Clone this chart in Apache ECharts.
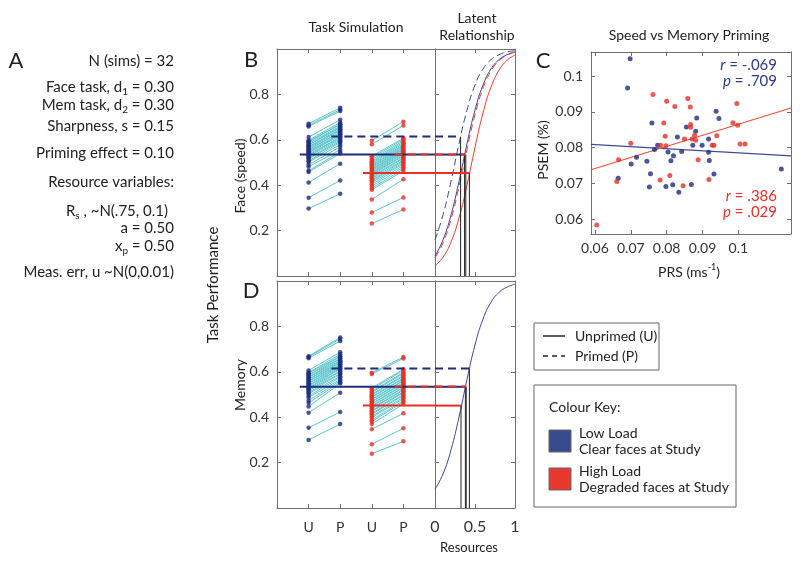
<!DOCTYPE html>
<html>
<head>
<meta charset="utf-8">
<script src="https://cdn.jsdelivr.net/npm/echarts@6/dist/echarts.min.js"></script>
<style>
html, body { margin: 0; padding: 0; background: #fff; }
#chart { width: 800px; height: 564px; }
</style>
</head>
<body>
<div id="chart"></div>
<script>
// tick labels
const taskTicks = ['U', 'P', 'U', 'P'];
const taskTickPos = [1, 2, 3, 4];
const perfTicks = [0.2, 0.4, 0.6, 0.8];
const resTicks = [0, 0.5, 1];
const cTicks = [0.06, 0.07, 0.08, 0.09, 0.1];

// panel B - face (speed), 32 simulated subjects
const faceBlueU = [0.297, 0.345, 0.412, 0.458, 0.464, 0.481, 0.490, 0.503, 0.507, 0.516, 0.519, 0.527, 0.531, 0.536, 0.542, 0.545, 0.549, 0.554, 0.557, 0.562, 0.567, 0.570, 0.576, 0.578, 0.584, 0.590, 0.593, 0.598, 0.612, 0.659, 0.664, 0.671];
const faceBlueP = [0.362, 0.421, 0.495, 0.540, 0.547, 0.556, 0.569, 0.578, 0.588, 0.593, 0.599, 0.604, 0.610, 0.612, 0.619, 0.624, 0.626, 0.633, 0.634, 0.641, 0.644, 0.647, 0.653, 0.656, 0.660, 0.667, 0.669, 0.676, 0.688, 0.727, 0.733, 0.741];
const faceRedU = [0.231, 0.280, 0.337, 0.380, 0.387, 0.396, 0.404, 0.411, 0.418, 0.422, 0.429, 0.435, 0.439, 0.445, 0.449, 0.454, 0.458, 0.463, 0.468, 0.471, 0.477, 0.481, 0.486, 0.490, 0.496, 0.501, 0.506, 0.513, 0.521, 0.528, 0.580, 0.596];
const faceRedP = [0.293, 0.346, 0.426, 0.463, 0.471, 0.479, 0.487, 0.495, 0.500, 0.507, 0.511, 0.518, 0.522, 0.529, 0.532, 0.538, 0.542, 0.547, 0.551, 0.556, 0.560, 0.564, 0.569, 0.574, 0.578, 0.584, 0.589, 0.595, 0.601, 0.607, 0.663, 0.680];
// group order: blue U, blue P, red U, red P
const faceMeans = [0.535, 0.614, 0.454, 0.535];
const faceCross = [0.37, 0.32, 0.43, 0.385];

// panel D - memory
const memBlueU = [0.300, 0.353, 0.420, 0.447, 0.463, 0.473, 0.487, 0.494, 0.504, 0.509, 0.517, 0.521, 0.528, 0.531, 0.538, 0.541, 0.548, 0.550, 0.557, 0.559, 0.566, 0.568, 0.575, 0.577, 0.584, 0.587, 0.594, 0.597, 0.606, 0.660, 0.665, 0.669];
const memBlueP = [0.370, 0.423, 0.508, 0.549, 0.554, 0.561, 0.566, 0.575, 0.580, 0.590, 0.593, 0.601, 0.604, 0.612, 0.615, 0.621, 0.625, 0.630, 0.633, 0.639, 0.642, 0.647, 0.650, 0.657, 0.659, 0.666, 0.669, 0.677, 0.686, 0.736, 0.745, 0.751];
const memRedU = [0.239, 0.281, 0.347, 0.370, 0.381, 0.388, 0.398, 0.404, 0.413, 0.417, 0.425, 0.429, 0.437, 0.440, 0.447, 0.450, 0.457, 0.460, 0.467, 0.470, 0.477, 0.480, 0.487, 0.490, 0.497, 0.501, 0.509, 0.514, 0.523, 0.529, 0.590, 0.596];
const memRedP = [0.294, 0.351, 0.417, 0.458, 0.467, 0.473, 0.482, 0.488, 0.496, 0.500, 0.508, 0.512, 0.519, 0.522, 0.530, 0.533, 0.540, 0.543, 0.550, 0.553, 0.560, 0.563, 0.570, 0.573, 0.581, 0.585, 0.593, 0.597, 0.606, 0.611, 0.659, 0.665];
const memMeans = [0.534, 0.614, 0.451, 0.535];
const memCross = [0.38, 0.43, 0.325, 0.39];

// latent relationship curves (resources -> performance)
const curveX = [0, 0.1, 0.2, 0.3, 0.4, 0.5, 0.6, 0.7, 0.8, 0.9, 1];
const faceCurveBlueU = [0.088, 0.159, 0.269, 0.417, 0.583, 0.731, 0.841, 0.912, 0.953, 0.975, 0.987];
const faceCurveBlueP = [0.159, 0.269, 0.417, 0.583, 0.731, 0.841, 0.912, 0.953, 0.975, 0.987, 0.993];
const faceCurveRedU = [0.044, 0.083, 0.150, 0.256, 0.401, 0.566, 0.718, 0.832, 0.906, 0.950, 0.973];
const faceCurveRedP = [0.081, 0.146, 0.250, 0.394, 0.558, 0.711, 0.827, 0.903, 0.948, 0.972, 0.986];
const memCurve = [0.083, 0.150, 0.256, 0.401, 0.566, 0.718, 0.832, 0.906, 0.950, 0.973, 0.986];

// panel C - speed vs memory priming
const prsBlue = [0.0698, 0.0691, 0.0759, 0.0855, 0.0884, 0.0881, 0.0938, 0.0946, 0.0830, 0.0775, 0.0766, 0.0873, 0.0899, 0.0917, 0.0804, 0.0819, 0.0842, 0.0917, 0.0812, 0.0919, 0.0716, 0.0701, 0.0745, 0.0755, 0.0932, 0.0665, 0.0752, 0.0798, 0.0817, 0.0834, 0.0869, 0.1120];
const psemBlue = [0.1049, 0.0967, 0.0869, 0.0858, 0.0883, 0.0846, 0.0902, 0.0882, 0.0830, 0.0807, 0.0795, 0.0807, 0.0807, 0.0824, 0.0788, 0.0777, 0.0789, 0.0787, 0.0763, 0.0764, 0.0773, 0.0754, 0.0762, 0.0727, 0.0726, 0.0714, 0.0690, 0.0691, 0.0696, 0.0675, 0.0697, 0.0740];
const prsRed = [0.0762, 0.0800, 0.0859, 0.0823, 0.0866, 0.0996, 0.0792, 0.0867, 0.0867, 0.0985, 0.0998, 0.0796, 0.0850, 0.0871, 0.0878, 0.0881, 0.0940, 0.0700, 0.0783, 0.0798, 0.0927, 0.0932, 0.1005, 0.1019, 0.0666, 0.0888, 0.0809, 0.0661, 0.0782, 0.0846, 0.0918, 0.0605];
const psemRed = [0.0949, 0.0930, 0.0938, 0.0915, 0.0914, 0.0924, 0.0869, 0.0865, 0.0857, 0.0870, 0.0863, 0.0832, 0.0824, 0.0824, 0.0835, 0.0821, 0.0833, 0.0812, 0.0807, 0.0805, 0.0807, 0.0807, 0.0810, 0.0810, 0.0766, 0.0766, 0.0722, 0.0705, 0.0709, 0.0693, 0.0711, 0.0583];
const fitX = [0.0589, 0.1147];
const fitBlue = [0.0809, 0.0777];
const fitRed = [0.0738, 0.0911];

const FONT = 'Lato';
const AXC = '#707070';
const BLUE = '#1f2d7d';
const RED = '#ea2e26';
const CYAN = '#5cc5cc';
const CBLUE = '#3b47a0';
const CRED = '#ef3b30';

const chart = echarts.init(document.getElementById('chart'));

const grids = [
  {left: 277, top: 49, width: 158, height: 227},   // B task
  {left: 435, top: 49, width: 80, height: 227},    // B latent
  {left: 277, top: 281, width: 158, height: 227},  // D task
  {left: 435, top: 281, width: 80, height: 227},   // D latent
  {left: 591, top: 52, width: 200, height: 182}    // C
];

function mkAxis(g, pos, min, max, ticks, lab) {
  return {
    gridIndex: g, type: 'value', position: pos, min: min, max: max,
    axisLine: {show: true, onZero: false, lineStyle: {color: AXC, width: 1}},
    axisTick: {show: ticks != null, inside: true, length: 4, customValues: ticks || undefined, lineStyle: {color: AXC}},
    axisLabel: lab ? {show: true, customValues: ticks, formatter: lab.fmt, fontSize: lab.size, margin: lab.margin, color: '#333', fontFamily: FONT} : {show: false},
    splitLine: {show: false}
  };
}

const fmtTask = v => taskTicks[taskTickPos.indexOf(Math.round(v))];
const fmtPerf = v => v.toFixed(1);
const fmtRes = v => String(v);
const fmtC = v => String(+v.toFixed(2));

const xAxes = [
  mkAxis(0, 'bottom', 0, 5, taskTickPos, null),
  mkAxis(0, 'top', 0, 5, taskTickPos, null),
  mkAxis(1, 'bottom', 0, 1, resTicks, null),
  mkAxis(1, 'top', 0, 1, resTicks, null),
  mkAxis(2, 'bottom', 0, 5, taskTickPos, {fmt: fmtTask, size: 14, margin: 12}),
  mkAxis(2, 'top', 0, 5, taskTickPos, null),
  mkAxis(3, 'bottom', 0, 1, resTicks, {fmt: fmtRes, size: 16, margin: 11}),
  mkAxis(3, 'top', 0, 1, resTicks, null),
  mkAxis(4, 'bottom', fitX[0], fitX[1], cTicks, {fmt: fmtC, size: 14, margin: 7}),
  mkAxis(4, 'top', fitX[0], fitX[1], cTicks, null)
];
const yAxes = [
  mkAxis(0, 'left', 0, 1, perfTicks, {fmt: fmtPerf, size: 14, margin: 8}),
  mkAxis(0, 'right', 0, 1, null, null),
  mkAxis(1, 'left', 0, 1, perfTicks, null),
  mkAxis(1, 'right', 0, 1, perfTicks, null),
  mkAxis(2, 'left', 0, 1, perfTicks, {fmt: fmtPerf, size: 14, margin: 8}),
  mkAxis(2, 'right', 0, 1, null, null),
  mkAxis(3, 'left', 0, 1, perfTicks, null),
  mkAxis(3, 'right', 0, 1, perfTicks, null),
  mkAxis(4, 'left', 0.0558, 0.1068, cTicks, {fmt: fmtC, size: 14, margin: 8}),
  mkAxis(4, 'right', 0.0558, 0.1068, cTicks, null)
];

function seg(ax, pts, color, width, dashed, z) {
  return {
    type: 'line', xAxisIndex: ax, yAxisIndex: ax, data: pts, showSymbol: false, silent: true, z: z,
    lineStyle: {color: color, width: width, type: dashed ? [8, 5] : 'solid'}
  };
}

function taskPanel(g, bu, bp, ru, rp, means, cross, curves) {
  const t = 2 * g, l = 2 * (g + 1);
  const s = [];
  s.push({
    type: 'lines', coordinateSystem: 'cartesian2d', xAxisIndex: t, yAxisIndex: t, silent: true, z: 2,
    lineStyle: {color: CYAN, width: 1, opacity: 1},
    data: bu.map((u, i) => ({coords: [[1, u], [2, bp[i]]]}))
      .concat(ru.map((u, i) => ({coords: [[3, u], [4, rp[i]]]})))
  });
  [[bu, 1, BLUE], [bp, 2, BLUE], [ru, 3, RED], [rp, 4, RED]].forEach(([arr, x, c]) => {
    s.push({
      type: 'scatter', xAxisIndex: t, yAxisIndex: t, symbolSize: 4.5, silent: true, z: 3,
      itemStyle: {color: c}, data: arr.map(v => [x, v])
    });
  });
  curves.forEach(cv => {
    s.push({
      type: 'line', xAxisIndex: l, yAxisIndex: l, smooth: true, showSymbol: false, silent: true, z: 3,
      lineStyle: {color: cv.color, width: 1, type: cv.dashed ? [7, 4] : 'solid'},
      data: curveX.map((x, i) => [x, cv.data[i]])
    });
  });
  const groups = [[0, BLUE, false], [1, BLUE, true], [2, RED, false], [3, RED, true]];
  groups.forEach(([k, c, d]) => {
    s.push(seg(t, [[taskTickPos[k] - 0.28, means[k]], [5, means[k]]], c, 2, d, 5));
    s.push(seg(l, [[0, means[k]], [cross[k], means[k]]], c, 2, d, 5));
    s.push(seg(l, [[cross[k], 0], [cross[k], means[k]]], '#222', 1, false, 4));
  });
  return s;
}

const series = [].concat(
  taskPanel(0, faceBlueU, faceBlueP, faceRedU, faceRedP, faceMeans, faceCross, [
    {data: faceCurveBlueP, color: CBLUE, dashed: true},
    {data: faceCurveBlueU, color: CBLUE, dashed: false},
    {data: faceCurveRedU, color: CRED, dashed: false},
    {data: faceCurveRedP, color: CRED, dashed: true}
  ]),
  taskPanel(2, memBlueU, memBlueP, memRedU, memRedP, memMeans, memCross, [
    {data: memCurve, color: CBLUE, dashed: false}
  ]),
  [
    seg(8, fitX.map((x, i) => [x, fitBlue[i]]), '#3d4a99', 1.2, false, 2),
    seg(8, fitX.map((x, i) => [x, fitRed[i]]), '#f04e3a', 1.2, false, 2),
    {type: 'scatter', xAxisIndex: 8, yAxisIndex: 8, symbolSize: 5, silent: true, z: 3,
      itemStyle: {color: BLUE}, data: prsBlue.map((x, i) => [x, psemBlue[i]])},
    {type: 'scatter', xAxisIndex: 8, yAxisIndex: 8, symbolSize: 5, silent: true, z: 3,
      itemStyle: {color: RED}, data: prsRed.map((x, i) => [x, psemRed[i]])}
  ]
);

function txt(x, y, text, size, opt) {
  opt = opt || {};
  return {
    type: 'text', x: x, y: y, rotation: opt.rot || 0, silent: true, z: 10,
    style: {
      text: text, fill: opt.color || '#222', fontSize: size, fontFamily: FONT,
      align: opt.align || 'center', verticalAlign: 'middle', lineHeight: size + 5,
      rich: opt.rich
    }
  };
}
const sub = {fontSize: 10, fontFamily: FONT, fill: '#222', verticalAlign: 'bottom', lineHeight: 9};
const sup = {fontSize: 9, fontFamily: FONT, fill: '#222', verticalAlign: 'top', lineHeight: 9};
const ital = c => ({i: {fontStyle: 'italic', fontSize: 15, fontFamily: FONT, fill: c}});

const graphic = [
  // panel letters
  txt(16, 61, 'A', 22), txt(251, 60, 'B', 22), txt(543, 61, 'C', 22), txt(251, 291, 'D', 22),
  // panel A parameters
  txt(174, 61, 'N (sims) = 32', 15, {align: 'right'}),
  txt(174, 87, 'Face task, d{s|1} = 0.30', 15, {align: 'right', rich: {s: sub}}),
  txt(174, 105, 'Mem task, d{s|2} = 0.30', 15, {align: 'right', rich: {s: sub}}),
  txt(174, 126, 'Sharpness, s = 0.15', 15, {align: 'right'}),
  txt(174, 153, 'Priming effect = 0.10', 15, {align: 'right'}),
  txt(174, 182, 'Resource variables:', 15, {align: 'right'}),
  txt(168, 211, 'R{s|s} , ~N(.75, 0.1)', 15, {align: 'right', rich: {s: sub}}),
  txt(174, 228, 'a = 0.50', 15, {align: 'right'}),
  txt(174, 246, 'x{s|p} = 0.50', 15, {align: 'right', rich: {s: sub}}),
  txt(174, 272, 'Meas. err, u ~N(0,0.01)', 15, {align: 'right'}),
  // titles
  txt(356, 27, 'Task Simulation', 14),
  txt(477, 18, 'Latent', 14),
  txt(477, 35, 'Relationship', 14),
  txt(689, 35, 'Speed vs Memory Priming', 14),
  // axis names
  txt(213, 285, 'Task Performance', 15, {rot: Math.PI / 2}),
  txt(240, 176, 'Face (speed)', 14, {rot: Math.PI / 2}),
  txt(240, 385, 'Memory', 14, {rot: Math.PI / 2}),
  txt(543, 150, 'PSEM (%)', 14, {rot: Math.PI / 2}),
  txt(689, 272, 'PRS (ms{p|-1})', 14, {rich: {p: sup}}),
  txt(469, 548, 'Resources', 13),
  // correlation annotations
  txt(777, 65, '{i|r} = -.069', 15, {align: 'right', color: '#2e3a8c', rich: ital('#2e3a8c')}),
  txt(777, 81, '{i|p} = .709', 15, {align: 'right', color: '#2e3a8c', rich: ital('#2e3a8c')}),
  txt(777, 196, '{i|r} = .386', 15, {align: 'right', color: RED, rich: ital(RED)}),
  txt(777, 212, '{i|p} = .029', 15, {align: 'right', color: RED, rich: ital(RED)}),
  // line-style legend
  {type: 'rect', shape: {x: 534, y: 323, width: 125, height: 47}, style: {fill: '#fff', stroke: '#666', lineWidth: 1}, silent: true},
  {type: 'line', shape: {x1: 543, y1: 336, x2: 565, y2: 336}, style: {stroke: '#222', lineWidth: 1.5}, silent: true},
  {type: 'line', shape: {x1: 543, y1: 356, x2: 565, y2: 356}, style: {stroke: '#222', lineWidth: 1.5, lineDash: [5, 4]}, silent: true},
  txt(575, 336, 'Unprimed (U)', 14, {align: 'left'}),
  txt(575, 356, 'Primed (P)', 14, {align: 'left'}),
  // colour key
  {type: 'rect', shape: {x: 534, y: 385, width: 202, height: 122}, style: {fill: '#fff', stroke: '#666', lineWidth: 1}, silent: true},
  txt(549, 407, 'Colour Key:', 14, {align: 'left'}),
  {type: 'rect', shape: {x: 549, y: 430, width: 22, height: 22}, style: {fill: '#3a4a8e', stroke: '#666', lineWidth: 1}, silent: true},
  {type: 'rect', shape: {x: 549, y: 468, width: 22, height: 22}, style: {fill: '#e8392e', stroke: '#666', lineWidth: 1}, silent: true},
  txt(579, 433, 'Low Load', 14, {align: 'left'}),
  txt(579, 449, 'Clear faces at Study', 14, {align: 'left'}),
  txt(579, 471, 'High Load', 14, {align: 'left'}),
  txt(579, 487, 'Degraded faces at Study', 14, {align: 'left'})
];

chart.setOption({
  backgroundColor: '#fff',
  animation: false,
  grid: grids,
  xAxis: xAxes,
  yAxis: yAxes,
  series: series,
  graphic: graphic
});
</script>
</body>
</html>
